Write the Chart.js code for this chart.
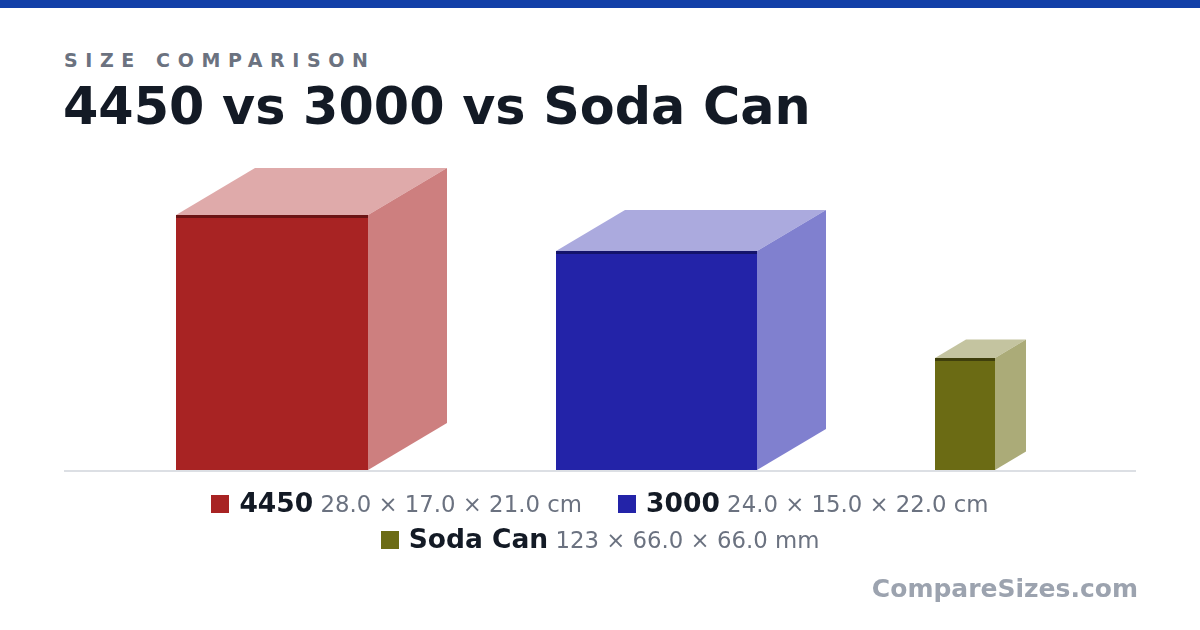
<!DOCTYPE html>
<html><head><meta charset="utf-8">
<script src="https://cdn.jsdelivr.net/npm/chart.js@4"></script>
<style>
body{margin:0;width:1200px;height:630px;overflow:hidden;background:#fff;font-family:"DejaVu Sans",sans-serif;position:relative}
#bar{position:absolute;left:0;top:0;width:1200px;height:8px;background:#1240a8}
#sub{position:absolute;left:64px;top:49px;font-size:19px;font-weight:bold;letter-spacing:7.6px;color:#6b7280}
#title{position:absolute;left:63px;top:77px;font-size:50.8px;font-weight:bold;color:#131a25}
#cv{position:absolute;left:0;top:0}
.leg{position:absolute;width:1200px;text-align:center;font-size:22.8px;color:#6b7280;white-space:nowrap}
.leg b{color:#131a25;font-size:26.5px}
.sw{display:inline-block;width:18px;height:18px;margin-right:10px;vertical-align:-1px}
#brand{position:absolute;right:62px;top:574px;font-size:25px;font-weight:bold;color:#9ca3af}
</style></head><body>
<div id="bar"></div>
<div id="sub">SIZE COMPARISON</div>
<div id="title">4450 vs 3000 vs Soda Can</div>
<canvas id="cv" width="1200" height="630"></canvas>
<div class="leg" style="top:487px"><span class="sw" style="background:#a82323"></span><b>4450</b> 28.0 × 17.0 × 21.0 cm &nbsp;&nbsp;&nbsp; <span class="sw" style="background:#2323a8"></span><b>3000</b> 24.0 × 15.0 × 22.0 cm</div>
<div class="leg" style="top:523px"><span class="sw" style="background:#6b6b14"></span><b>Soda Can</b> 123 × 66.0 × 66.0 mm</div>
<div id="brand">CompareSizes.com</div>
<script>
const labels=["4450","3000","Soda Can"];
const boxLeft=[11.2,49.2,87.1];
const boxWidth=[19.2,20.1,6.0];
const boxHeight=[25.5,21.9,11.2];
const boxDepth=[7.9,6.9,3.1];
const fronts=["#a82323","#2323a8","#6b6b14"];
const tops=["#dfaaaa","#abaade","#c4c4a0"];
const sides=["#cd7f7f","#8080cf","#abab78"];
const edges=["#6b1414","#14146b","#3f3f0c"];
const boxes={id:'boxes',afterDatasetsDraw(c){
 const x=c.scales.x,y=c.scales.y,ctx=c.ctx;
 const base=y.getPixelForValue(0);
 ctx.save();
 ctx.strokeStyle='#d1d5db';ctx.lineWidth=1.5;ctx.beginPath();
 ctx.moveTo(x.getPixelForValue(0),base+1);ctx.lineTo(x.getPixelForValue(107.2),base+1);ctx.stroke();
 labels.forEach((l,i)=>{
  const x0=x.getPixelForValue(boxLeft[i]),x1=x.getPixelForValue(boxLeft[i]+boxWidth[i]);
  const yt=y.getPixelForValue(boxHeight[i]);
  const dx=x.getPixelForValue(boxDepth[i])-x.getPixelForValue(0);
  const dy=dx*0.595;
  ctx.fillStyle=tops[i];ctx.beginPath();ctx.moveTo(x0,yt);ctx.lineTo(x0+dx,yt-dy);ctx.lineTo(x1+dx,yt-dy);ctx.lineTo(x1,yt);ctx.fill();
  ctx.fillStyle=sides[i];ctx.beginPath();ctx.moveTo(x1,yt);ctx.lineTo(x1+dx,yt-dy);ctx.lineTo(x1+dx,base-dy);ctx.lineTo(x1,base);ctx.fill();
  ctx.fillStyle=fronts[i];ctx.fillRect(x0,yt,x1-x0,base-yt);
  ctx.fillStyle=edges[i];ctx.fillRect(x0,yt,x1-x0,3);
 });
 ctx.restore();
}};
new Chart(document.getElementById('cv'),{type:'scatter',
 data:{datasets:[{data:labels.map((l,i)=>({x:boxLeft[i],y:boxHeight[i]})),pointRadius:0}]},
 options:{responsive:false,animation:false,events:[],
  layout:{padding:{left:64,right:64,top:130,bottom:160}},
  plugins:{legend:{display:false},tooltip:{enabled:false}},
  scales:{x:{type:'linear',min:0,max:107.2,display:false},y:{min:0,max:34,display:false}}},
 plugins:[boxes]});
</script></body></html>
